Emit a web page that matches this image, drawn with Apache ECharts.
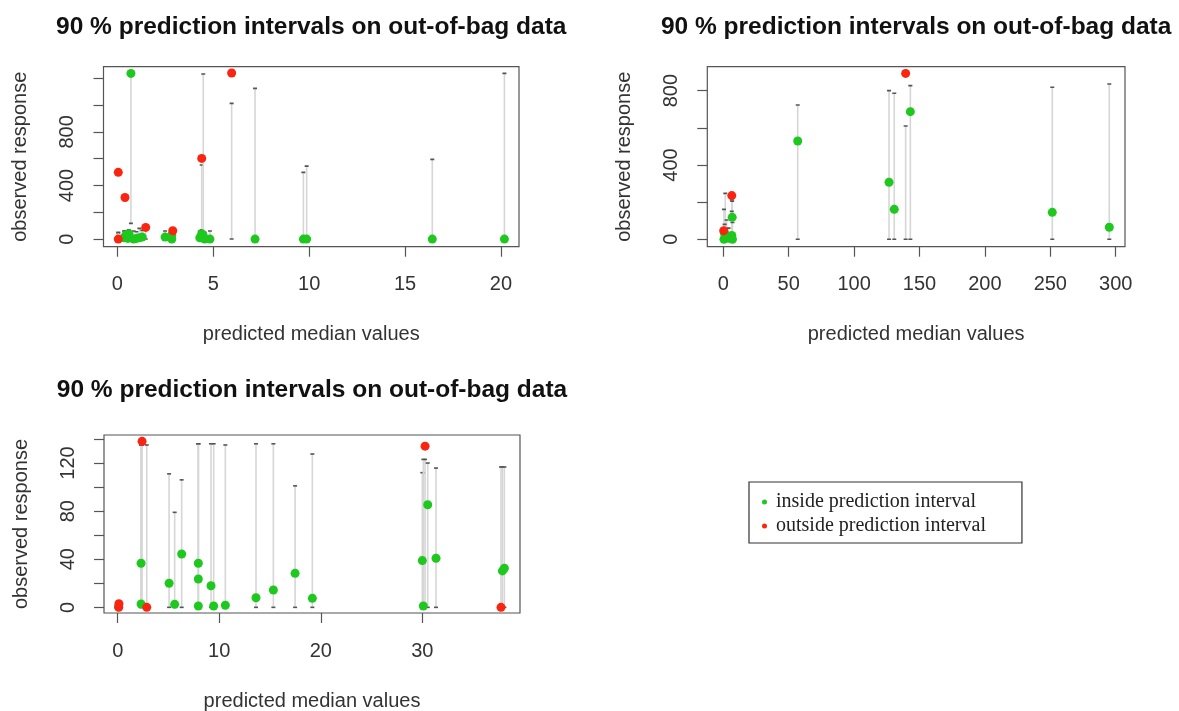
<!DOCTYPE html>
<html>
<head>
<meta charset="utf-8">
<title>90 % prediction intervals on out-of-bag data</title>
<script src="https://cdn.jsdelivr.net/npm/echarts@6/dist/echarts.min.js"></script>
<style>
  html, body { margin: 0; padding: 0; background: #fff; }
  #chart { width: 1179px; height: 711px; }
</style>
</head>
<body>
<div id="chart"></div>
<script>
// 面板 1（左上）：预测中位数、观测值、区间下限、区间上限、是否落在区间外
var p1Pred = [0.05, 0.05, 0.40, 1.48, 2.89, 4.40, 5.96,
              0.71, 0.35, 0.45, 0.55, 0.60, 0.85, 1.00, 1.15, 1.30, 2.49, 2.84, 2.84,
              4.30, 4.40, 4.48, 4.55, 4.83, 7.18, 9.70, 9.87, 16.42, 20.18]
var p1Obs  = [0, 498, 310, 87, 62, 602, 1240,
              1237, 10, 30, 5, 40, 0, 5, 10, 15, 15, 0, 30,
              10, 40, 25, 0, 0, 0, 0, 0, 0, 0]
var p1Lo   = [4, 0, 0, 0, 0, 0, 0,
              117, 0, 0, 0, 0, 0, 0, 0, 0, 0, 0, 0,
              0, 0, 0, 0, 0, 0, 0, 0, 0, 0]
var p1Hi   = [45, 50, 60, 70, 55, 553, 1013,
              1246, 60, 55, 50, 70, 60, 55, 80, 65, 60, 70, 60,
              60, 70, 1232, 50, 60, 1125, 498, 545, 595, 1237]
var p1Out  = [1, 1, 1, 1, 1, 1, 1,
              0, 0, 0, 0, 0, 0, 0, 0, 0, 0, 0, 0,
              0, 0, 0, 0, 0, 0, 0, 0, 0, 0]

// 面板 2（右上）
var p2Pred = [139.4, 6.5, 0.3,
              143.0, 126.7, 130.7, 56.9, 251.5, 295.1, 6.8, 1.5, 0.5, 2.5, 4.0, 6.5, 7.0, 1.0]
var p2Obs  = [893, 235, 46,
              687, 307, 161, 529, 145, 65, 118, 10, 0, 20, 5, 20, 0, 30]
var p2Lo   = [0, 0, 0,
              0, 0, 0, 0, 0, 0, 0, 0, 0, 0, 0, 0, 0, 0]
var p2Hi   = [610, 211, 30,
              827, 800, 786, 723, 818, 836, 205, 247, 161, 104, 60, 150, 90, 80]
var p2Out  = [1, 1, 1,
              0, 0, 0, 0, 0, 0, 0, 0, 0, 0, 0, 0, 0, 0]

// 面板 3（左下）
var p3Pred = [0.10, 0.12, 2.40, 2.86, 30.27, 37.75,
              0.08, 2.30, 2.30, 5.06, 5.61, 6.30, 7.94, 7.94, 7.94, 9.19, 9.45, 10.6,
              13.62, 15.33, 17.47, 19.17, 30.0, 30.1, 30.53, 31.35, 37.89, 38.08]
var p3Obs  = [0, 3, 138, 0, 134, 0,
              0.5, 36.7, 2.8, 20, 2.5, 44.4, 36.7, 23.6, 1.1, 18, 1.1, 1.7,
              8, 14.4, 28.3, 7.5, 38.9, 1.1, 85.3, 40.8, 30.3, 32.5]
var p3Lo   = [0.5, 0, 0, 1, 0, 1,
              0, 0, 0, 0, 0, 0, 0, 0, 0, 0, 0, 0,
              0, 0, 0, 0, 0, 0, 0, 0, 0, 0]
var p3Hi   = [1.5, 1.5, 135, 135, 123, 116.7,
              1, 135, 135, 111, 79, 106, 136, 136, 136, 136, 136, 135,
              136, 136, 101, 127.5, 112, 123, 120, 115.8, 116.7, 116.7]
var p3Out  = [1, 1, 1, 1, 1, 1,
              0, 0, 0, 0, 0, 0, 0, 0, 0, 0, 0, 0,
              0, 0, 0, 0, 0, 0, 0, 0, 0, 0]

// 刻度与标签
var p1XTicks = [0, 5, 10, 15, 20]
var p1YTicks = [0, 200, 400, 600, 800, 1000, 1200]
var p1YLabels = [0, 400, 800]
var p2XTicks = [0, 50, 100, 150, 200, 250, 300]
var p2YTicks = [0, 200, 400, 600, 800]
var p2YLabels = [0, 400, 800]
var p3XTicks = [0, 10, 20, 30]
var p3YTicks = [0, 20, 40, 60, 80, 100, 120, 140]
var p3YLabels = [0, 40, 80, 120]

var titleText = '90 % prediction intervals on out-of-bag data'
var xName = 'predicted median values'
var yName = 'observed response'
var insideName = 'inside prediction interval'
var outsideName = 'outside prediction interval'

var sans = 'Liberation Sans, Arial, Helvetica, sans-serif'
var serif = 'Liberation Serif, Times New Roman, serif'
var GREEN = '#1ec81e', RED = '#fa2410', AXIS = '#555', TEXT = '#333'

// 各面板绘图框（像素）与坐标范围（R 默认两端各留 4%）
var panels = [
  {box: {left: 103.5, top: 66.7, width: 415.5, height: 180}, xr: [-0.72, 20.94], yr: [-57, 1287],
   pred: p1Pred, obs: p1Obs, lo: p1Lo, hi: p1Hi, out: p1Out,
   xt: p1XTicks, yt: p1YTicks, yl: p1YLabels, titleTop: 10},
  {box: {left: 707.3, top: 66.7, width: 417.7, height: 180}, xr: [-12.23, 307.1], yr: [-40, 929],
   pred: p2Pred, obs: p2Obs, lo: p2Lo, hi: p2Hi, out: p2Out,
   xt: p2XTicks, yt: p2YTicks, yl: p2YLabels, titleTop: 10},
  {box: {left: 104, top: 435, width: 416, height: 178}, xr: [-1.35, 39.62], yr: [-4.7, 143.3],
   pred: p3Pred, obs: p3Obs, lo: p3Lo, hi: p3Hi, out: p3Out,
   xt: p3XTicks, yt: p3YTicks, yl: p3YLabels, titleTop: 373}
]

// 区间竖线 + 两端的小短横
function renderInterval(params, api) {
  var lo = api.coord([api.value(0), api.value(1)])
  var hi = api.coord([api.value(0), api.value(2)])
  return {
    type: 'group',
    children: [
      {type: 'line', shape: {x1: lo[0], y1: lo[1], x2: hi[0], y2: hi[1]},
       style: {stroke: '#d6d6d6', lineWidth: 1.6}},
      {type: 'rect', shape: {x: lo[0] - 2, y: lo[1] - 0.8, width: 4, height: 1.6}, style: {fill: '#555'}},
      {type: 'rect', shape: {x: hi[0] - 2, y: hi[1] - 0.8, width: 4, height: 1.6}, style: {fill: '#555'}}
    ]
  }
}

var grid = [], xAxis = [], yAxis = [], series = [], title = []
panels.forEach(function (p, i) {
  grid.push(Object.assign({show: true, borderColor: AXIS, borderWidth: 1.2,
    backgroundColor: 'transparent', containLabel: false, outerBoundsMode: 'none'}, p.box))

  // 标题居中于绘图框（减去 title 默认 padding 的偏移）
  title.push({
    text: titleText, left: p.box.left + p.box.width / 2 - 5, top: p.titleTop, textAlign: 'center',
    textStyle: {fontFamily: sans, fontSize: 24.5, fontWeight: 'bold', color: '#111'}
  })

  xAxis.push({
    type: 'value', gridIndex: i, min: p.xr[0], max: p.xr[1],
    name: xName, nameLocation: 'middle', nameGap: 78,
    nameTextStyle: {fontFamily: sans, fontSize: 20, color: TEXT},
    axisLine: {show: false, onZero: false},
    axisTick: {show: true, customValues: p.xt, length: 10, lineStyle: {color: AXIS, width: 1.2}},
    axisLabel: {customValues: p.xt, fontFamily: sans, fontSize: 20, color: TEXT, margin: 28},
    splitLine: {show: false}
  })
  yAxis.push({
    type: 'value', gridIndex: i, min: p.yr[0], max: p.yr[1],
    name: yName, nameLocation: 'middle', nameGap: 73, nameRotate: 90,
    nameTextStyle: {fontFamily: sans, fontSize: 20, color: TEXT},
    axisLine: {show: false, onZero: false},
    axisTick: {show: true, customValues: p.yt, length: 10, lineStyle: {color: AXIS, width: 1.2}},
    axisLabel: {customValues: p.yl, rotate: 90, fontFamily: sans, fontSize: 20, color: TEXT, margin: 26},
    splitLine: {show: false}
  })

  var intervals = [], inside = [], outside = []
  for (var k = 0; k < p.pred.length; k++) {
    intervals.push([p.pred[k], p.lo[k], p.hi[k]])
    ;(p.out[k] ? outside : inside).push([p.pred[k], p.obs[k]])
  }
  series.push({
    type: 'custom', xAxisIndex: i, yAxisIndex: i, renderItem: renderInterval,
    encode: {x: 0, y: [1, 2]}, data: intervals, clip: true, silent: true, z: 1
  })
  series.push({
    name: insideName, type: 'scatter', xAxisIndex: i, yAxisIndex: i,
    symbol: 'circle', symbolSize: 9, itemStyle: {color: GREEN, opacity: 1},
    data: inside, z: 2, silent: true
  })
  series.push({
    name: outsideName, type: 'scatter', xAxisIndex: i, yAxisIndex: i,
    symbol: 'circle', symbolSize: 9, itemStyle: {color: RED, opacity: 1},
    data: outside, z: 3, silent: true
  })
})

var chart = echarts.init(document.getElementById('chart'), null, {renderer: 'canvas'})
chart.setOption({
  backgroundColor: '#fff',
  animation: false,
  title: title,
  grid: grid,
  xAxis: xAxis,
  yAxis: yAxis,
  legend: {
    data: [insideName, outsideName],
    left: 749, top: 482, orient: 'vertical',
    icon: 'circle', itemWidth: 5, itemHeight: 5, itemGap: 4,
    padding: [10, 36, 7, 13],
    borderColor: '#333', borderWidth: 1.2, backgroundColor: '#fff',
    selectedMode: false,
    textStyle: {fontFamily: serif, fontSize: 20, lineHeight: 20, color: '#222', padding: [0, 0, 0, 4]}
  },
  series: series
})
</script>
</body>
</html>
